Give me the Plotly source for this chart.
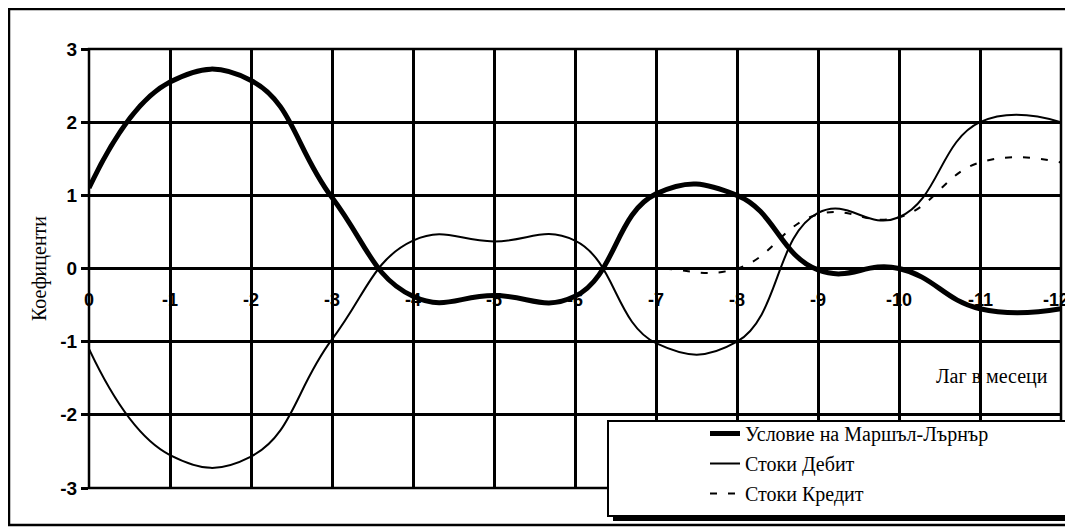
import plotly.graph_objects as go

# ---- data ----
lags = [0, -1, -2, -3, -4, -5, -6, -7, -8, -9, -10, -11, -12]
lag_labels = ["0", "-1", "-2", "-3", "-4", "-5", "-6", "-7", "-8", "-9", "-10", "-11", "-12"]
ml_condition = [1.10, 2.55, 2.57, 0.97, -0.38, -0.37, -0.38, 1.02, 1.00, -0.02, 0.00, -0.55, -0.55]
debit = [-1.10, -2.55, -2.57, -0.97, 0.38, 0.37, 0.38, -1.02, -1.00, 0.76, 0.70, 2.00, 2.00]
credit = [0.00, 0.00, 0.00, 0.00, 0.00, 0.00, 0.00, 0.00, 0.00, 0.74, 0.70, 1.45, 1.45]
y_ticks = [-3, -2, -1, 0, 1, 2, 3]
y_tick_labels = ["-3", "-2", "-1", "0", "1", "2", "3"]
series_names = ["Условие на Маршъл-Лърнър", "Стоки Дебит", "Стоки Кредит"]

# ---- layout geometry (page pixels; the page body has an 8px margin) ----
OFF = 8
W, H = 1073 - OFF, 527 - OFF
L, R, T, B = 89, 1061, 49, 488  # plot area in page pixels
PW, PH = R - L, B - T
YMIN, YMAX = -3, 3


def px_x(p):
    return (p - L) / PW


def px_y(p):
    return (B - p) / PH


SANS = "Liberation Sans, Arial, sans-serif"
SERIF = "Liberation Serif, Times New Roman, serif"
TICKFONT = dict(family=SANS, size=18, color="black", weight="bold")

fig = go.Figure()
fig.add_trace(go.Scatter(
    x=lags, y=ml_condition, name=series_names[0], mode="lines",
    line=dict(color="black", width=5, shape="spline", smoothing=1.3),
    legendgroup="a",
))
fig.add_trace(go.Scatter(
    x=lags, y=debit, name=series_names[1], mode="lines",
    line=dict(color="black", width=2, shape="spline", smoothing=1.3),
    legendgroup="b",
))
fig.add_trace(go.Scatter(
    x=lags, y=credit, name=series_names[2], mode="lines",
    line=dict(color="black", width=2, dash="7px,11px", shape="spline", smoothing=1.3),
    legendgroup="c",
))

shapes = [
    # outer chart frame
    dict(type="rect", xref="paper", yref="paper",
         x0=px_x(9), x1=px_x(1090), y0=px_y(525), y1=px_y(9),
         line=dict(color="black", width=2.5), fillcolor="rgba(0,0,0,0)", layer="above"),
    # plot-area frame
    dict(type="rect", xref="paper", yref="paper", x0=0, x1=1, y0=0, y1=1,
         line=dict(color="black", width=2.5), fillcolor="rgba(0,0,0,0)", layer="above"),
    # legend shadow
    dict(type="rect", xref="paper", yref="paper",
         x0=px_x(613), x1=px_x(1095), y0=px_y(521), y1=px_y(426),
         line=dict(width=0), fillcolor="black", layer="above"),
    # legend box
    dict(type="rect", xref="paper", yref="paper",
         x0=px_x(608), x1=px_x(1090), y0=px_y(516), y1=px_y(421),
         line=dict(color="black", width=2), fillcolor="white", layer="above"),
]

# x tick labels sit just below the zero line (axis crosses at y = 0)
annotations = []
for i, (lag, lab) in enumerate(zip(lags, lag_labels)):
    last = i == len(lags) - 1
    annotations.append(dict(
        text=lab, x=lag, y=0, xref="x", yref="y",
        xanchor="right" if last else "center", yanchor="middle",
        xshift=10 if last else 0, yshift=-31,
        showarrow=False, font=TICKFONT,
    ))
annotations.append(dict(
    text="Лаг в месеци", xref="paper", yref="paper",
    x=px_x(1050), y=px_y(376), xanchor="right", yanchor="middle",
    showarrow=False, font=dict(family=SERIF, size=20, color="black"),
))

fig.update_layout(
    width=W, height=H,
    margin=dict(l=L - OFF, r=W - (R - OFF), t=T - OFF, b=H - (B - OFF), autoexpand=False),
    paper_bgcolor="white", plot_bgcolor="white",
    showlegend=True,
    legend=dict(
        x=px_x(705), y=px_y(414), xanchor="left", yanchor="top",
        xref="paper", yref="paper",
        bgcolor="rgba(0,0,0,0)", borderwidth=0,
        font=dict(family=SERIF, size=20, color="black"),
        traceorder="grouped", tracegroupgap=1,
    ),
    shapes=shapes,
    xaxis=dict(
        range=[0, -12], tickmode="array", tickvals=lags,
        showgrid=True, gridcolor="black", gridwidth=2.5,
        zeroline=False, showline=False, ticks="", showticklabels=False,
    ),
    yaxis=dict(
        range=[YMIN, YMAX], tickmode="array", tickvals=y_ticks, ticktext=y_tick_labels,
        showgrid=True, gridcolor="black", gridwidth=2.5,
        zeroline=True, zerolinecolor="black", zerolinewidth=2.5,
        showline=False, ticks="outside", ticklen=7, tickwidth=2.5, tickcolor="black",
        tickfont=dict(family=SANS, size=19, color="black", weight="bold"),
        title=dict(text="Коефиценти", font=dict(family=SERIF, size=20, color="black"), standoff=8),
    ),
    annotations=annotations,
)

fig.write_html("out.html")
